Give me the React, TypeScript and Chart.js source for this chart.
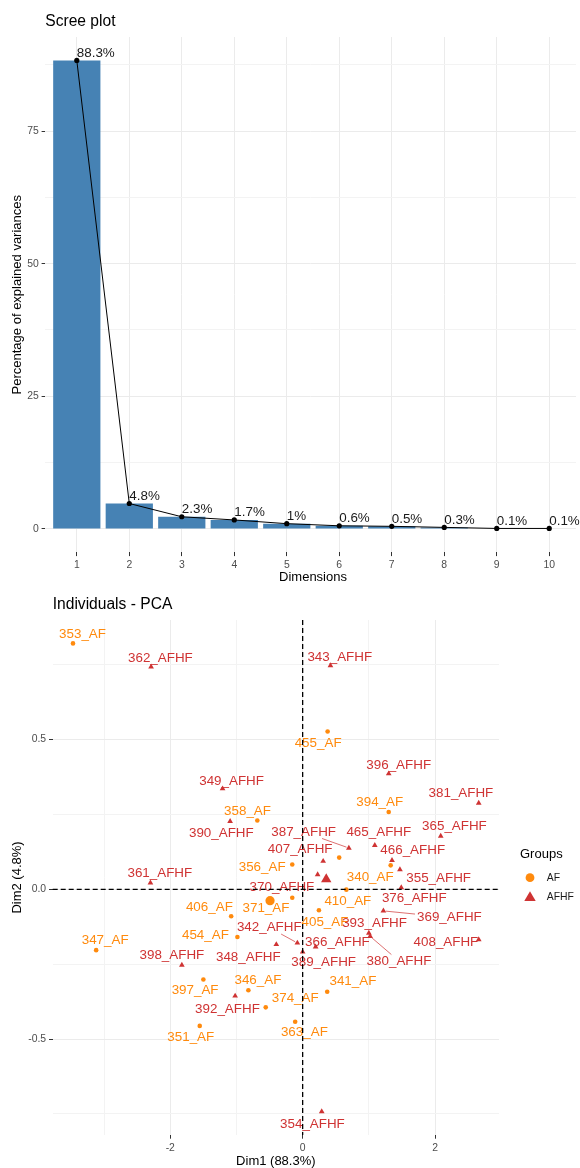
import React, { useEffect, useRef } from "react";
import { Chart, registerables } from "chart.js";

Chart.register(...registerables);

// ---- Scree plot data ----
const dimensions = [1, 2, 3, 4, 5, 6, 7, 8, 9, 10];
const explainedVariance = [88.3, 4.8, 2.3, 1.7, 1, 0.6, 0.5, 0.3, 0.1, 0.1];
const screeYTicks = [0, 25, 50, 75];

// ---- Individuals (PCA scores) ----
const groups = ["AF", "AFHF"];

const afNames = [
  "353_AF", "455_AF", "394_AF", "358_AF", "356_AF", "", "340_AF", "410_AF", "371_AF", "405_AF",
  "406_AF", "454_AF", "347_AF", "397_AF", "346_AF", "341_AF", "374_AF", "363_AF", "351_AF",
];
const afDim1 = [
  -3.47, 0.377, 1.3, -0.685, -0.157, 0.552, 1.33, 0.66, -0.157, 0.246,
  -1.08, -0.986, -3.12, -1.5, -0.82, 0.371, -0.558, -0.113, -1.555,
];
const afDim2 = [
  0.821, 0.527, 0.258, 0.23, 0.083, 0.106, 0.08, -0.001, -0.028, -0.07,
  -0.09, -0.159, -0.203, -0.301, -0.337, -0.342, -0.394, -0.442, -0.456,
];

const afhfNames = [
  "362_AFHF", "343_AFHF", "349_AFHF", "396_AFHF", "381_AFHF", "390_AFHF", "365_AFHF", "465_AFHF",
  "387_AFHF", "407_AFHF", "466_AFHF", "355_AFHF", "370_AFHF", "376_AFHF", "361_AFHF", "369_AFHF",
  "393_AFHF", "380_AFHF", "408_AFHF", "342_AFHF", "366_AFHF", "389_AFHF", "348_AFHF", "398_AFHF",
  "392_AFHF", "354_AFHF",
];
const afhfDim1 = [
  -2.29, 0.42, -1.21, 1.3, 2.66, -1.096, 2.086, 1.09,
  0.698, 0.31, 1.35, 1.47, 0.226, 1.49, -2.3, 1.22,
  1.0, 1.02, 2.66, -0.08, 0.196, 0.0, -0.398, -1.825,
  -1.02, 0.288,
];
const afhfDim2 = [
  0.743, 0.747, 0.336, 0.386, 0.288, 0.227, 0.178, 0.147,
  0.138, 0.094, 0.097, 0.066, 0.049, 0.006, 0.022, -0.072,
  -0.146, -0.157, -0.168, -0.179, -0.192, -0.209, -0.184, -0.253,
  -0.356, -0.742,
];

const pcaXTicks = [-2, 0, 2];
const pcaXTickLabels = ["-2", "0", "2"];
const pcaYTicks = [-0.5, 0, 0.5];
const pcaYTickLabels = ["-0.5", "0.0", "0.5"];

// Repelled label placement: text centre relative to its point, in pixels
const afLabelNudge: [number, number][] = [
  [9.5, -9.4], [-9.5, 11.7], [-9, -9.4], [-9.8, -9.3], [-30.1, 3.3], [0, 0], [-20.5, 11.7], [1.5, 11.4],
  [-26.3, 11], [6, 11.7], [-21.8, -9.3], [-32, -1.7], [9, -10], [-8.3, 10.7], [9.5, -10], [25.7, -10.7],
  [29.5, -9], [9.2, 11], [-9, 11],
];
const afhfLabelNudge: [number, number][] = [
  [9.3, -8.3], [9.3, -8.3], [9, -7.6], [10, -8.3], [-17.8, -9.4], [-8.8, 11.7], [13.7, -9.7], [4, -12.7],
  [-45.2, -16], [-23, -11.4], [20.7, -9.7], [38.7, 9], [-35.7, 13], [13, 11], [9.4, -9], [66, 6.6],
  [5.7, -10], [28.8, 24.7], [-32.8, 2.4], [-28.1, -15.4], [21.8, -5], [21, 10.3], [-28, 12.4], [-10, -10],
  [-7.7, 13.3], [-9.3, 12.3],
];

// ---- Styling ----
const FONT = "'Liberation Sans', Arial, Helvetica, sans-serif";
const TICK_TEXT = "#4D4D4D";
const TICK_MARK = "#333333";
const GRID_MAJOR = "#EBEBEB";
const GRID_MINOR = "#F3F3F3";
const BAR_COLOR = "#4682B4";
const GROUP_COLORS = ["#FF8A0D", "#CF3333"];
const LABEL_SIZE = 13.4;

type Tick = { value: number; isMajor: boolean };

function buildTicks(majors: number[], lo: number, hi: number, withMinor: boolean): Tick[] {
  const out: Tick[] = majors.map((v) => ({ value: v, isMajor: true }));
  if (withMinor && majors.length > 1) {
    const half = (majors[1] - majors[0]) / 2;
    [majors[0] - half, ...majors.map((v) => v + half)].forEach((v) => {
      if (v >= lo && v <= hi) out.push({ value: v, isMajor: false });
    });
  }
  return out.sort((a, b) => a.value - b.value);
}

function fixSize(prop: "width" | "height", size: number) {
  return (scale: any) => {
    scale[prop] = size;
    scale.paddingLeft = 0;
    scale.paddingRight = 0;
    scale.paddingTop = 0;
    scale.paddingBottom = 0;
  };
}

const gridOpts = {
  offset: false,
  color: (c: any) => (c.tick && c.tick.isMajor ? GRID_MAJOR : GRID_MINOR),
  lineWidth: 1,
  tickLength: 3.7,
  tickColor: (c: any) => (c.tick && c.tick.isMajor ? TICK_MARK : "rgba(0,0,0,0)"),
  drawTicks: true,
};

const tickFont = { family: FONT, size: 10.4 };

function expand(values: number[], mult = 0.05): [number, number] {
  const lo = Math.min(...values);
  const hi = Math.max(...values);
  const pad = (hi - lo) * mult;
  return [lo - pad, hi + pad];
}

const mean = (a: number[]) => a.reduce((s, v) => s + v, 0) / a.length;

function drawTriangle(ctx: CanvasRenderingContext2D, x: number, y: number, r: number) {
  ctx.beginPath();
  for (let k = 0; k < 3; k++) {
    const a = (k * 2 * Math.PI) / 3;
    const px = x + Math.sin(a) * r;
    const py = y - Math.cos(a) * r;
    if (k === 0) ctx.moveTo(px, py);
    else ctx.lineTo(px, py);
  }
  ctx.closePath();
  ctx.fill();
}

// ---- Scree plot ----
function ScreePlot() {
  const ref = useRef<HTMLCanvasElement | null>(null);
  useEffect(() => {
    if (!ref.current) return;
    const H = 590;
    const [yLo, yHi] = expand([0, ...explainedVariance]);
    const yTicks = buildTicks(screeYTicks, yLo, yHi, true);
    const points = dimensions.map((d, i) => ({ x: d, y: explainedVariance[i] }));

    const decor = {
      id: "screeDecor",
      afterDatasetsDraw(chart: any) {
        const { ctx, chartArea } = chart;
        const xs = chart.scales.x;
        const meta = chart.getDatasetMeta(1);
        ctx.save();
        ctx.font = `${LABEL_SIZE}px ${FONT}`;
        ctx.fillStyle = "#1A1A1A";
        ctx.textAlign = "left";
        ctx.textBaseline = "middle";
        explainedVariance.forEach((v, i) => {
          const p = meta.data[i];
          ctx.fillText(`${v}%`, p.x, p.y - 7.5);
        });

        ctx.fillStyle = "#000";
        ctx.font = `15.6px ${FONT}`;
        ctx.fillText("Scree plot", chartArea.left, 22);

        ctx.font = `13px ${FONT}`;
        ctx.textAlign = "center";
        const cx =
          (xs.getPixelForValue(dimensions[0]) + xs.getPixelForValue(dimensions[dimensions.length - 1])) / 2;
        ctx.fillText("Dimensions", cx, 577);

        ctx.translate(17, (chartArea.top + chartArea.bottom) / 2);
        ctx.rotate(-Math.PI / 2);
        ctx.fillText("Percentage of explained variances", 0, 0);
        ctx.restore();
      },
    };

    const chart = new Chart(ref.current, {
      type: "bar",
      data: {
        datasets: [
          {
            type: "bar",
            data: points,
            backgroundColor: BAR_COLOR,
            borderWidth: 0,
            barPercentage: 0.9,
            categoryPercentage: 1,
            order: 2,
          } as any,
          {
            type: "line",
            data: points,
            borderColor: "#000",
            borderWidth: 1,
            pointRadius: 2.6,
            pointBackgroundColor: "#000",
            pointBorderWidth: 0,
            order: 1,
          } as any,
        ],
      },
      options: {
        animation: false,
        responsive: false,
        devicePixelRatio: 1,
        layout: { padding: { left: 0, top: 37, right: 0, bottom: H - 552.4 - 30 } },
        plugins: { legend: { display: false }, tooltip: { enabled: false }, title: { display: false } },
        scales: {
          x: {
            type: "linear",
            offset: false,
            bounds: "data",
            min: dimensions[0] - 0.6,
            max: dimensions[dimensions.length - 1] + 0.51,
            afterBuildTicks: (axis: any) => {
              axis.ticks = dimensions.map((v) => ({ value: v, isMajor: true }));
            },
            afterFit: fixSize("height", 30),
            ticks: {
              autoSkip: false,
              maxRotation: 0,
              padding: 2.9,
              color: TICK_TEXT,
              font: tickFont,
              callback: (v: any) => String(v),
            },
            grid: gridOpts,
            border: { display: false },
          },
          y: {
            type: "linear",
            bounds: "data",
            min: yLo,
            max: yHi,
            afterBuildTicks: (axis: any) => {
              axis.ticks = yTicks.map((t) => ({ ...t }));
            },
            afterFit: fixSize("width", 45.3),
            ticks: {
              autoSkip: false,
              padding: 2.9,
              color: TICK_TEXT,
              font: tickFont,
              callback: (v: any, i: number, ticks: any[]) => (ticks[i].isMajor ? String(v) : ""),
            },
            grid: gridOpts,
            border: { display: false },
          },
        } as any,
      },
      plugins: [decor],
    } as any);
    return () => chart.destroy();
  }, []);
  return <canvas ref={ref} width={580} height={590} style={{ display: "block", width: 580, height: 590 }} />;
}

// ---- Individuals - PCA ----
function IndividualsPlot() {
  const ref = useRef<HTMLCanvasElement | null>(null);
  useEffect(() => {
    if (!ref.current) return;
    const H = 578;
    const [xLo, xHi] = expand([...afDim1, ...afhfDim1]);
    const [yLo, yHi] = expand([...afDim2, ...afhfDim2]);
    const xTicks = buildTicks(pcaXTicks, xLo, xHi, true);
    const yTicks = buildTicks(pcaYTicks, yLo, yHi, true);

    const afPts = afDim1.map((x, i) => ({ x, y: afDim2[i] }));
    const afhfPts = afhfDim1.map((x, i) => ({ x, y: afhfDim2[i] }));
    const afMean = [{ x: mean(afDim1), y: mean(afDim2) }];
    const afhfMean = [{ x: mean(afhfDim1), y: mean(afhfDim2) }];

    const labelSets = [
      { names: afNames, nudge: afLabelNudge, color: GROUP_COLORS[0] },
      { names: afhfNames, nudge: afhfLabelNudge, color: GROUP_COLORS[1] },
    ];

    const decor = {
      id: "pcaDecor",
      afterDatasetsDraw(chart: any) {
        const { ctx, chartArea } = chart;
        const xs = chart.scales.x;
        const ys = chart.scales.y;
        ctx.save();
        ctx.font = `${LABEL_SIZE}px ${FONT}`;
        ctx.textAlign = "center";
        ctx.textBaseline = "middle";
        labelSets.forEach((set, di) => {
          const meta = chart.getDatasetMeta(di);
          set.names.forEach((name, i) => {
            if (!name) return;
            const p = meta.data[i];
            const [dx, dy] = set.nudge[i];
            const cx = p.x + dx;
            const cy = p.y + dy;
            const w = ctx.measureText(name).width;
            const hx = w / 2 + 2;
            const hy = 6.5;
            const ex = Math.max(Math.abs(dx) - hx, 0);
            const ey = Math.max(Math.abs(dy) - hy, 0);
            if (Math.hypot(ex, ey) > 8.5) {
              // leader line from the point towards the label centre, stopping at the label box
              const t = Math.min(
                Math.abs(dx) > 0 ? (Math.abs(dx) - hx) / Math.abs(dx) : 1,
                Math.abs(dy) > 0 ? (Math.abs(dy) - hy) / Math.abs(dy) : 1,
              );
              const s = Math.max(
                Math.abs(dx) > 0 ? (Math.abs(dx) - hx) / Math.abs(dx) : 0,
                Math.abs(dy) > 0 ? (Math.abs(dy) - hy) / Math.abs(dy) : 0,
              );
              const f = Math.max(0, Math.min(1, Math.max(t, s)));
              const tx = p.x + dx * f;
              const ty = p.y + dy * f;
              const len = Math.hypot(tx - p.x, ty - p.y);
              const sx = p.x + ((tx - p.x) / len) * 2.5;
              const sy = p.y + ((ty - p.y) / len) * 2.5;
              ctx.strokeStyle = set.color;
              ctx.lineWidth = 0.7;
              ctx.beginPath();
              ctx.moveTo(sx, sy);
              ctx.lineTo(tx, ty);
              ctx.stroke();
            }
            ctx.fillStyle = set.color;
            ctx.fillText(name, cx, cy);
          });
        });

        // reference axes through the origin
        const x0 = xs.getPixelForValue(0);
        const y0 = ys.getPixelForValue(0);
        ctx.strokeStyle = "#000";
        ctx.lineWidth = 1.3;
        ctx.setLineDash([5, 3]);
        ctx.beginPath();
        ctx.moveTo(chartArea.left, y0);
        ctx.lineTo(chartArea.right, y0);
        ctx.moveTo(x0, chartArea.top);
        ctx.lineTo(x0, chartArea.bottom);
        ctx.stroke();
        ctx.setLineDash([]);

        // titles
        ctx.fillStyle = "#000";
        ctx.textAlign = "left";
        ctx.font = `15.6px ${FONT}`;
        ctx.fillText("Individuals - PCA", chartArea.left, 15);
        ctx.font = `13px ${FONT}`;
        ctx.textAlign = "center";
        ctx.fillText("Dim1 (88.3%)", (chartArea.left + chartArea.right) / 2, 571);
        ctx.save();
        ctx.translate(17, (chartArea.top + chartArea.bottom) / 2);
        ctx.rotate(-Math.PI / 2);
        ctx.fillText("Dim2 (4.8%)", 0, 0);
        ctx.restore();

        // legend
        const lx = 520;
        ctx.textAlign = "left";
        ctx.font = `13px ${FONT}`;
        ctx.fillText("Groups", lx, 264);
        ctx.font = `10.4px ${FONT}`;
        ctx.fillStyle = GROUP_COLORS[0];
        ctx.beginPath();
        ctx.arc(lx + 10, 287.7, 4.4, 0, Math.PI * 2);
        ctx.fill();
        ctx.fillStyle = GROUP_COLORS[1];
        drawTriangle(ctx, lx + 10, 307.8, 6.6);
        ctx.fillStyle = "#1A1A1A";
        ctx.fillText(groups[0], lx + 26.7, 287.7);
        ctx.fillText(groups[1], lx + 26.7, 307.3);
        ctx.restore();
      },
    };

    const chart = new Chart(ref.current, {
      type: "scatter",
      data: {
        datasets: [
          {
            data: afPts,
            pointStyle: "circle",
            pointRadius: 2.3,
            backgroundColor: GROUP_COLORS[0],
            borderWidth: 0,
          },
          {
            data: afhfPts,
            pointStyle: "triangle",
            pointRadius: 3.3,
            backgroundColor: GROUP_COLORS[1],
            borderWidth: 0,
          },
          {
            data: afMean,
            pointStyle: "circle",
            pointRadius: 4.6,
            backgroundColor: GROUP_COLORS[0],
            borderWidth: 0,
          },
          {
            data: afhfMean,
            pointStyle: "triangle",
            pointRadius: 6,
            backgroundColor: GROUP_COLORS[1],
            borderWidth: 0,
          },
        ] as any,
      },
      options: {
        animation: false,
        responsive: false,
        devicePixelRatio: 1,
        layout: { padding: { left: 0, top: 30, right: 81, bottom: H - 545 - 30 } },
        plugins: { legend: { display: false }, tooltip: { enabled: false }, title: { display: false } },
        scales: {
          x: {
            type: "linear",
            bounds: "data",
            min: xLo,
            max: xHi,
            afterBuildTicks: (axis: any) => {
              axis.ticks = xTicks.map((t) => ({ ...t }));
            },
            afterFit: fixSize("height", 30),
            ticks: {
              autoSkip: false,
              maxRotation: 0,
              padding: 2.9,
              color: TICK_TEXT,
              font: tickFont,
              callback: (v: any, i: number, ticks: any[]) =>
                ticks[i].isMajor ? pcaXTickLabels[pcaXTicks.indexOf(ticks[i].value)] : "",
            },
            grid: gridOpts,
            border: { display: false },
          },
          y: {
            type: "linear",
            bounds: "data",
            min: yLo,
            max: yHi,
            afterBuildTicks: (axis: any) => {
              axis.ticks = yTicks.map((t) => ({ ...t }));
            },
            afterFit: fixSize("width", 52.7),
            ticks: {
              autoSkip: false,
              padding: 2.9,
              color: TICK_TEXT,
              font: tickFont,
              callback: (v: any, i: number, ticks: any[]) =>
                ticks[i].isMajor ? pcaYTickLabels[pcaYTicks.indexOf(ticks[i].value)] : "",
            },
            grid: gridOpts,
            border: { display: false },
          },
        } as any,
      },
      plugins: [decor],
    } as any);
    return () => chart.destroy();
  }, []);
  return <canvas ref={ref} width={580} height={578} style={{ display: "block", width: 580, height: 578 }} />;
}

export default function App() {
  return (
    <div style={{ position: "absolute", left: 0, top: 0, width: 580, height: 1168, background: "#fff", overflow: "hidden" }}>
      <ScreePlot />
      <IndividualsPlot />
    </div>
  );
}
